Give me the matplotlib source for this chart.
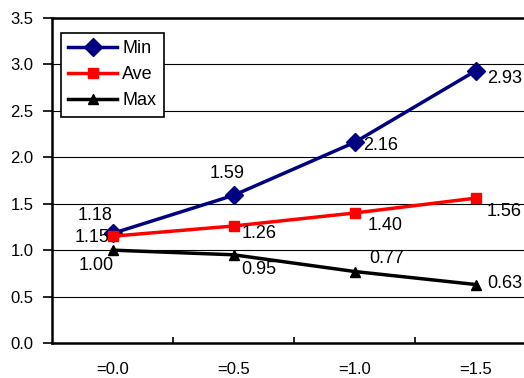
import matplotlib
matplotlib.use("Agg")
import matplotlib.pyplot as plt

plt.rcParams['font.family'] = ['Liberation Sans', 'DejaVu Sans']

categories = ["=0.0", "=0.5", "=1.0", "=1.5"]
min_vals = [1.18, 1.59, 2.16, 2.93]
ave_vals = [1.15, 1.26, 1.40, 1.56]
max_vals = [1.00, 0.95, 0.77, 0.63]
y_ticks = [0.0, 0.5, 1.0, 1.5, 2.0, 2.5, 3.0, 3.5]

# label offsets in pixels (dx, dy) for each point of each series
min_off = [(-17, 18), (-6, 22), (26, -3), (29, -8)]
ave_off = [(-20, -1), (26, -8), (31, -12), (29, -13)]
max_off = [(-16, -15), (25, -15), (32, 13), (29, 1)]

fig = plt.figure(figsize=(5.24, 3.78), dpi=100)
ax = fig.add_axes([52 / 524, 35 / 378, 484 / 524, 325 / 378])

x = list(range(len(categories)))
series = [
    ("Min", min_vals, "#000080", "D", 9.0, min_off),
    ("Ave", ave_vals, "#ff0000", "s", 7.0, ave_off),
    ("Max", max_vals, "#000000", "^", 7.5, max_off),
]
for name, vals, color, marker, ms, offs in series:
    ax.plot(x, vals, color=color, lw=2.5, marker=marker, markersize=ms,
            markerfacecolor=color, markeredgecolor=color, label=name,
            zorder=3, clip_on=False)
    for xi, v, (dx, dy) in zip(x, vals, offs):
        ax.annotate(f"{v:.2f}", (xi, v), xytext=(dx, dy),
                    textcoords="offset pixels", ha="center", va="center",
                    fontsize=13, color="black", zorder=4)

ax.set_xlim(-0.5, len(categories) - 0.5)
ax.set_ylim(0, 3.5)
ax.set_yticks(y_ticks)
ax.set_yticklabels([f"{t:.1f}" for t in y_ticks])
ax.set_xticks(x)
ax.set_xticklabels(categories)
ax.set_xticks([i + 0.5 for i in x[:-1]], minor=True)

ax.grid(axis="y", color="black", lw=0.8, zorder=1)
ax.tick_params(axis="y", direction="out", length=6.5, width=1.2, pad=7,
               labelsize=12)
ax.tick_params(axis="x", which="major", length=0, pad=14, labelsize=12)
ax.tick_params(axis="x", which="minor", direction="in", length=4, width=1.2)

for side in ["left", "bottom", "top"]:
    ax.spines[side].set_linewidth(1.8)
    ax.spines[side].set_color("black")
ax.spines["right"].set_visible(False)

leg = ax.legend(loc="upper left", bbox_to_anchor=(9 / 484, 1 - 15 / 325),
                fontsize=13, frameon=True, fancybox=False, edgecolor="black",
                framealpha=1, handlelength=2.7, handletextpad=0.3,
                labelspacing=0.5, borderpad=0.4, borderaxespad=0)
leg.get_frame().set_linewidth(1.2)

fig.savefig("out.png", dpi=100)
